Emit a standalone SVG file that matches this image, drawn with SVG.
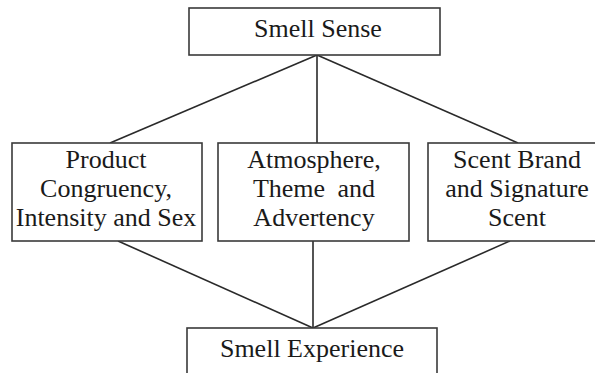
<svg xmlns="http://www.w3.org/2000/svg" width="595" height="373" viewBox="0 0 595 373">
<style>
.box{fill:#fff;stroke:#3a3a3a;stroke-width:1.6}
.t{font-family:'Liberation Serif','DejaVu Serif',serif;font-size:26px;fill:#1a1a1a;text-anchor:middle}
.c{stroke:#2a2a2a;stroke-width:1.6;fill:none}
</style>
<rect width="595" height="373" fill="#fff"/>
<g id="connectors">
<line class="c" x1="317" y1="55" x2="110" y2="143"/>
<line class="c" x1="317" y1="55" x2="317" y2="143"/>
<line class="c" x1="317" y1="55" x2="518" y2="143"/>
<line class="c" x1="118" y1="241" x2="313" y2="328"/>
<line class="c" x1="313" y1="241" x2="313" y2="328"/>
<line class="c" x1="510" y1="241" x2="313" y2="328"/>
</g>
<g id="smell-sense">
<rect class="box" x="189" y="8" width="251" height="47"/>
<text class="t" x="318" y="37">Smell Sense</text>
</g>
<g id="product">
<rect class="box" x="12" y="143" width="190" height="98"/>
<text class="t" x="106" y="168">Product</text>
<text class="t" x="106" y="197">Congruency,</text>
<text class="t" x="106" y="226">Intensity and Sex</text>
</g>
<g id="atmosphere">
<rect class="box" x="218" y="143" width="191" height="98"/>
<text class="t" x="314" y="168">Atmosphere,</text>
<text class="t" x="314" y="197" word-spacing="6">Theme and</text>
<text class="t" x="314" y="226">Advertency</text>
</g>
<g id="scent-brand">
<rect class="box" x="428" y="143" width="178" height="98"/>
<text class="t" x="517" y="168">Scent Brand</text>
<text class="t" x="517" y="197">and Signature</text>
<text class="t" x="517" y="226">Scent</text>
</g>
<g id="smell-experience">
<rect class="box" x="187" y="328" width="250" height="50"/>
<text class="t" x="312" y="357">Smell Experience</text>
</g>
</svg>
